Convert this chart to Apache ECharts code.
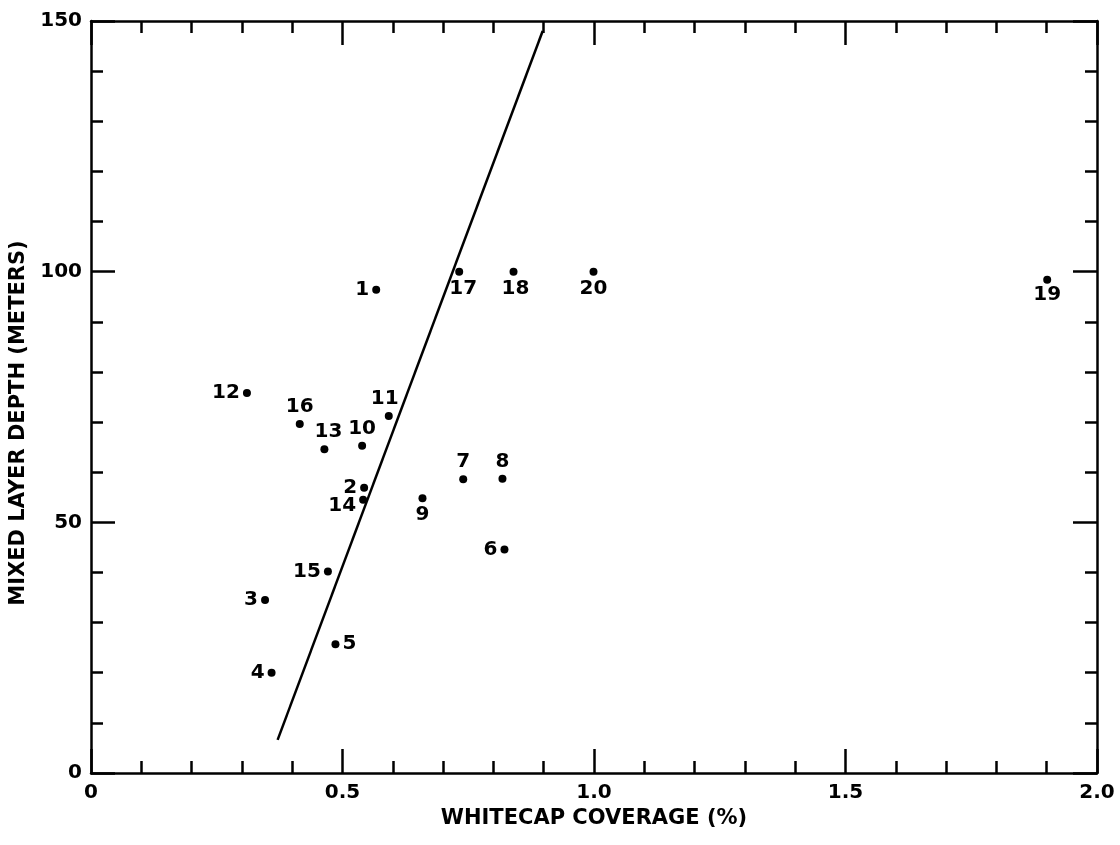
<!DOCTYPE html>
<html>
<head>
<meta charset="utf-8">
<script src="https://cdn.jsdelivr.net/npm/echarts@6/dist/echarts.min.js"></script>
<style>html,body{margin:0;padding:0;background:#fff;}#c{width:1120px;height:845px;}</style>
</head>
<body>
<div id="c"></div>
<script>
// ---- data ----
const pointIds = ['1','2','3','4','5','6','7','8','9','10','11','12','13','14','15','16','17','18','19','20'];
const whitecap = [0.567,0.543,0.346,0.359,0.486,0.822,0.740,0.818,0.659,0.539,0.592,0.310,0.464,0.541,0.471,0.415,0.732,0.840,1.901,0.999];
const depth    = [96.4, 56.9, 34.5, 20.0, 25.7, 44.6, 58.6, 58.7, 54.8, 65.3, 71.2, 75.8, 64.6, 54.5, 40.2, 69.6, 100, 100, 98.4, 100];
const fitLineX = [0.371, 0.898];
const fitLineY = [6.6, 148];
const xTickLabels = ['0','0.5','1.0','1.5','2.0'];
const yTickLabels = ['0','50','100','150'];

// label placement (styling only)
const labelPlace = {
  '1':['left',[0,0]], '2':['left',[0,0]], '3':['left',[0,0]], '4':['left',[0,0]],
  '5':['right',[0,0]], '6':['left',[0,0]], '7':['top',[0,0]], '8':['top',[0,0]],
  '9':['bottom',[0,0]], '10':['top',[0,0]], '11':['top',[-4,0]], '12':['left',[0,0]],
  '13':['top',[4,0]], '14':['left',[0,6]], '15':['left',[0,0]], '16':['top',[0,0]],
  '17':['bottom',[4,0]], '18':['bottom',[2,0]], '19':['bottom',[0,-2]], '20':['bottom',[0,0]]
};

const FONT = 'DejaVu Sans';
const scatterData = pointIds.map((id, i) => ({
  value: [whitecap[i], depth[i]],
  name: id,
  label: { position: labelPlace[id][0], offset: labelPlace[id][1] }
}));

const chart = echarts.init(document.getElementById('c'));
const axisLine = { show: true, onZero: false, lineStyle: { color: '#000', width: 2.5 } };
const tick = { show: true, inside: true, length: 24, lineStyle: { color: '#000', width: 2.5 } };
const minor = { show: true, splitNumber: 5, length: 12, lineStyle: { color: '#000', width: 2.5 } };

function xFmt(v){ const idx = Math.round(v / 0.5); return xTickLabels[idx] !== undefined ? xTickLabels[idx] : ''; }
function yFmt(v){ const idx = Math.round(v / 50); return yTickLabels[idx] !== undefined ? yTickLabels[idx] : ''; }

chart.setOption({
  backgroundColor: '#fff',
  animation: false,
  grid: { left: 91, right: 23, top: 21, bottom: 72 },
  xAxis: [
    { type: 'value', min: 0, max: 2, interval: 0.5, position: 'bottom',
      name: 'WHITECAP COVERAGE (%)', nameLocation: 'middle', nameGap: 31,
      nameTextStyle: { fontFamily: FONT, fontWeight: 'bold', fontSize: 21, color: '#000' },
      axisLine, axisTick: tick, minorTick: minor, splitLine: { show: false },
      axisLabel: { formatter: xFmt, fontFamily: FONT, fontWeight: 'bold', fontSize: 20, color: '#000', margin: 10 } },
    { type: 'value', min: 0, max: 2, interval: 0.5, position: 'top',
      axisLine, axisTick: tick, minorTick: minor, splitLine: { show: false },
      axisLabel: { show: false } }
  ],
  yAxis: [
    { type: 'value', min: 0, max: 150, interval: 50, position: 'left',
      name: 'MIXED LAYER DEPTH (METERS)', nameLocation: 'middle', nameGap: 57,
      nameTextStyle: { fontFamily: FONT, fontWeight: 'bold', fontSize: 21, color: '#000', padding: [0, 52, 0, 0] },
      axisLine, axisTick: tick, minorTick: minor, splitLine: { show: false },
      axisLabel: { formatter: yFmt, fontFamily: FONT, fontWeight: 'bold', fontSize: 20, color: '#000', margin: 9 } },
    { type: 'value', min: 0, max: 150, interval: 50, position: 'right',
      axisLine, axisTick: tick, minorTick: minor, splitLine: { show: false },
      axisLabel: { show: false } }
  ],
  series: [
    { type: 'line', xAxisIndex: 0, yAxisIndex: 0, symbol: 'none',
      data: fitLineX.map((x, i) => [x, fitLineY[i]]),
      lineStyle: { color: '#000', width: 2.5 } },
    { type: 'scatter', xAxisIndex: 0, yAxisIndex: 0, symbol: 'circle', symbolSize: 8,
      itemStyle: { color: '#000', opacity: 1 },
      label: { show: true, formatter: p => p.name, distance: 3,
        fontFamily: FONT, fontWeight: 'bold', fontSize: 20, color: '#000', opacity: 1, textBorderWidth: 0 },
      data: scatterData }
  ]
});
</script>
</body>
</html>
